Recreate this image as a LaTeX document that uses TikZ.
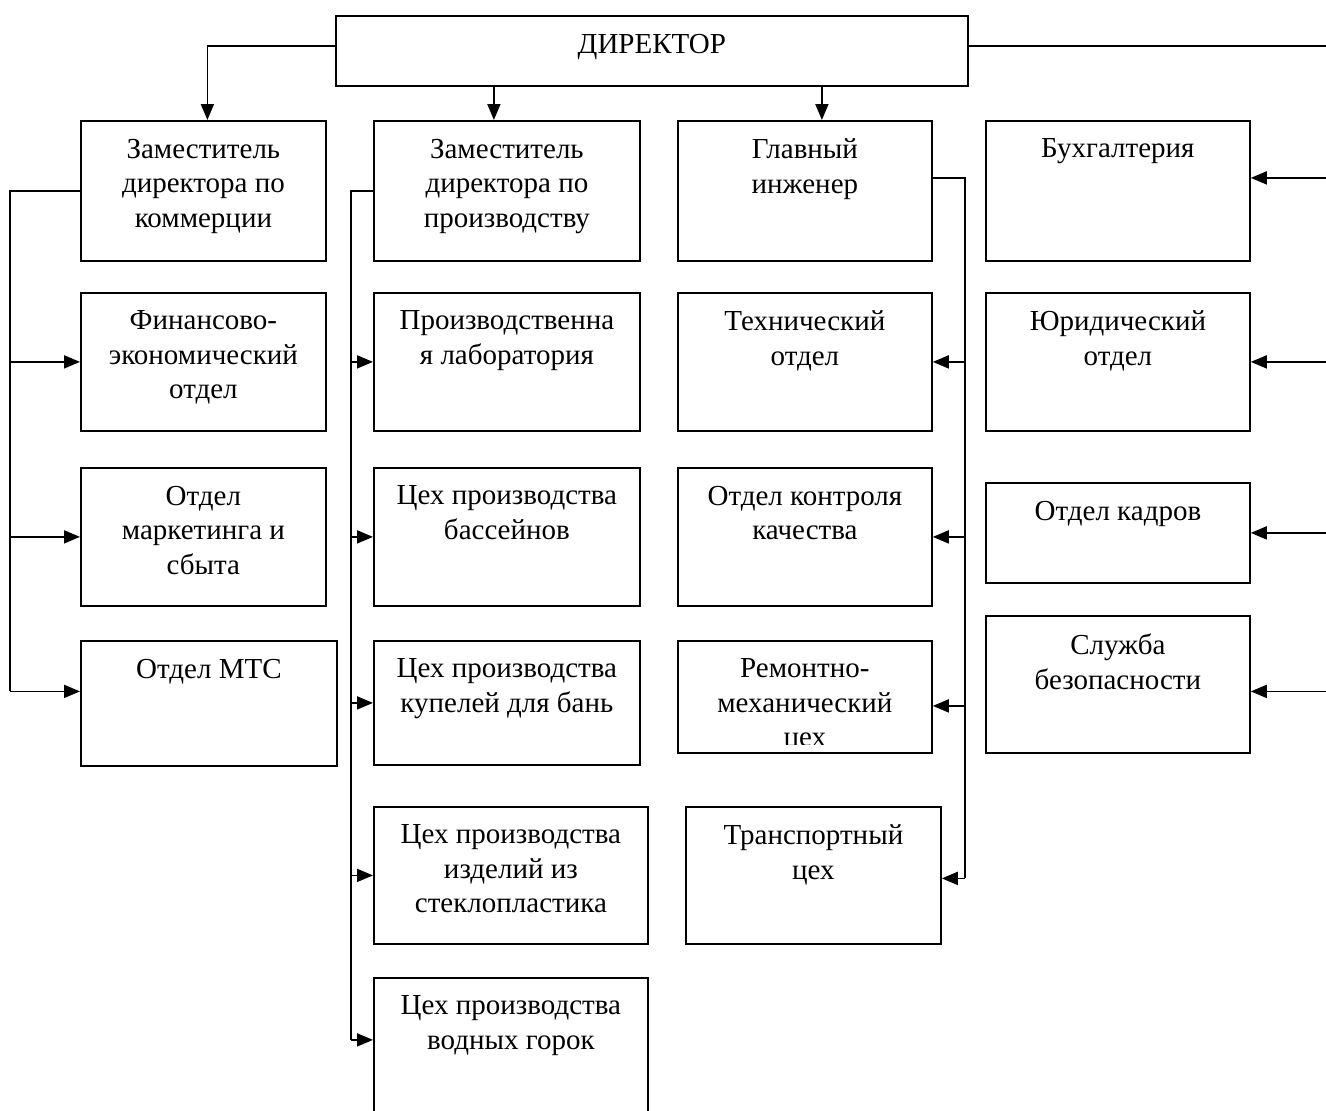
\documentclass[tikz,border=0pt]{standalone}
\usepackage{fontspec}
\setmainfont{Liberation Serif}
\usetikzlibrary{arrows.meta,positioning}

\begin{document}
\begin{tikzpicture}
[x=1pt, y=-1pt, line width=1.8pt, >={Triangle[length=16pt,width=13pt]},
txt/.style={anchor=north, align=center, inner sep=0pt, yshift=-18pt,
  font=\fontsize{29}{34.5}\selectfont},
unit/.style={rectangle, draw, anchor=north west, inner sep=0pt,
  label={[txt]north:{#1}}}]

\useasboundingbox (0,0) rectangle (1326,1111);

% director
\node[unit={ДИРЕКТОР}, minimum width=632pt, minimum height=70pt] (dir) at (335,15) {};

% column 1
\node[unit={Заместитель\\директора по\\коммерции}, minimum width=245pt, minimum height=140pt] (zk) at (80,120) {};
\node[unit={Финансово-\\экономический\\отдел}, minimum width=245pt, minimum height=138pt] (fe) at (80,292) {};
\node[unit={Отдел\\маркетинга и\\сбыта}, minimum width=245pt, minimum height=138pt] (ms) at (80,467) {};
\node[unit={Отдел МТС}, minimum width=256pt, minimum height=125pt] (mts) at (80,640) {};

% column 2
\node[unit={Заместитель\\директора по\\производству}, minimum width=266pt, minimum height=140pt] (zp) at (373,120) {};
\node[unit={Производственна\\я лаборатория}, minimum width=266pt, minimum height=138pt] (lab) at (373,292) {};
\node[unit={Цех производства\\бассейнов}, minimum width=266pt, minimum height=138pt] (bas) at (373,467) {};
\node[unit={Цех производства\\купелей для бань}, minimum width=266pt, minimum height=124pt] (kup) at (373,640) {};
\node[unit={Цех производства\\изделий из\\стеклопластика}, minimum width=274pt, minimum height=137pt] (stk) at (373,806) {};
\node[unit={Цех производства\\водных горок}, minimum width=274pt, minimum height=160pt] (gor) at (373,977) {};

% column 3
\node[unit={Главный\\инженер}, minimum width=254pt, minimum height=140pt] (gi) at (677,120) {};
\node[unit={Технический\\отдел}, minimum width=254pt, minimum height=138pt] (teh) at (677,292) {};
\node[unit={Отдел контроля\\качества}, minimum width=254pt, minimum height=138pt] (okk) at (677,467) {};
\node[rectangle, draw, anchor=north west, minimum width=254pt, minimum height=112pt] (rmc) at (677,640) {};
\begin{scope}
\clip (rmc.north west) rectangle ([yshift=9pt]rmc.south east);
\node[txt] (rmct) at (rmc.north) {Ремонтно-\\механический\\цех};
\end{scope}
\node[unit={Транспортный\\цех}, minimum width=255pt, minimum height=137pt] (trc) at (685,806) {};

% column 4
\node[unit={Бухгалтерия}, minimum width=264pt, minimum height=140pt] (buh) at (985,120) {};
\node[unit={Юридический\\отдел}, minimum width=264pt, minimum height=138pt] (yur) at (985,292) {};
\node[unit={Отдел кадров}, minimum width=264pt, minimum height=100pt] (kad) at (985,482) {};
\node[unit={Служба\\безопасности}, minimum width=264pt, minimum height=137pt] (sb) at (985,615) {};

% trunks
\coordinate (lt) at (10,0);
\coordinate (mt) at (351,0);
\coordinate (gt) at (965,0);
\coordinate (rt) at (1332,0);
\coordinate (a1) at ([xshift=4pt]zk.north);
\coordinate (a2) at ([xshift=-13pt]zp.north);
\coordinate (a3) at ([xshift=17pt]gi.north);

% from director
\draw[->] ([yshift=5pt]dir.west) -| (a1);
\draw[->] (a2 |- dir.south) -- (a2);
\draw[->] (a3 |- dir.south) -- (a3);
\draw ([yshift=5pt]dir.east) -- ([yshift=5pt]dir.east -| rt) -- (rt |- sb.east);

% commerce
\draw (zk.west) -- (zk.west -| lt) -- ([yshift=12pt]mts.west -| lt);
\draw[->] (fe.west -| lt) -- (fe.west);
\draw[->] (ms.west -| lt) -- (ms.west);
\draw[->] ([yshift=12pt]mts.west -| lt) -- ([yshift=12pt]mts.west);

% production
\draw (zp.west) -- (zp.west -| mt) -- ([yshift=18pt]gor.west -| mt);
\draw[->] (lab.west -| mt) -- (lab.west);
\draw[->] (bas.west -| mt) -- (bas.west);
\draw[->] (kup.west -| mt) -- (kup.west);
\draw[->] (stk.west -| mt) -- (stk.west);
\draw[->] ([yshift=18pt]gor.west -| mt) -- ([yshift=18pt]gor.west);

% engineer
\draw ([yshift=13pt]gi.east) -- ([yshift=13pt]gi.east -| gt) -- ([yshift=-3pt]trc.east -| gt);
\draw[->] (teh.east -| gt) -- (teh.east);
\draw[->] (okk.east -| gt) -- (okk.east);
\draw[->] ([yshift=-9pt]rmc.east -| gt) -- ([yshift=-9pt]rmc.east);
\draw[->] ([yshift=-3pt]trc.east -| gt) -- ([yshift=-3pt]trc.east);

% director's staff
\draw[->] ([yshift=13pt]buh.east -| rt) -- ([yshift=13pt]buh.east);
\draw[->] (yur.east -| rt) -- (yur.east);
\draw[->] (kad.east -| rt) -- (kad.east);
\draw[->] ([yshift=-7pt]sb.east -| rt) -- ([yshift=-7pt]sb.east);

\end{tikzpicture}
\end{document}
